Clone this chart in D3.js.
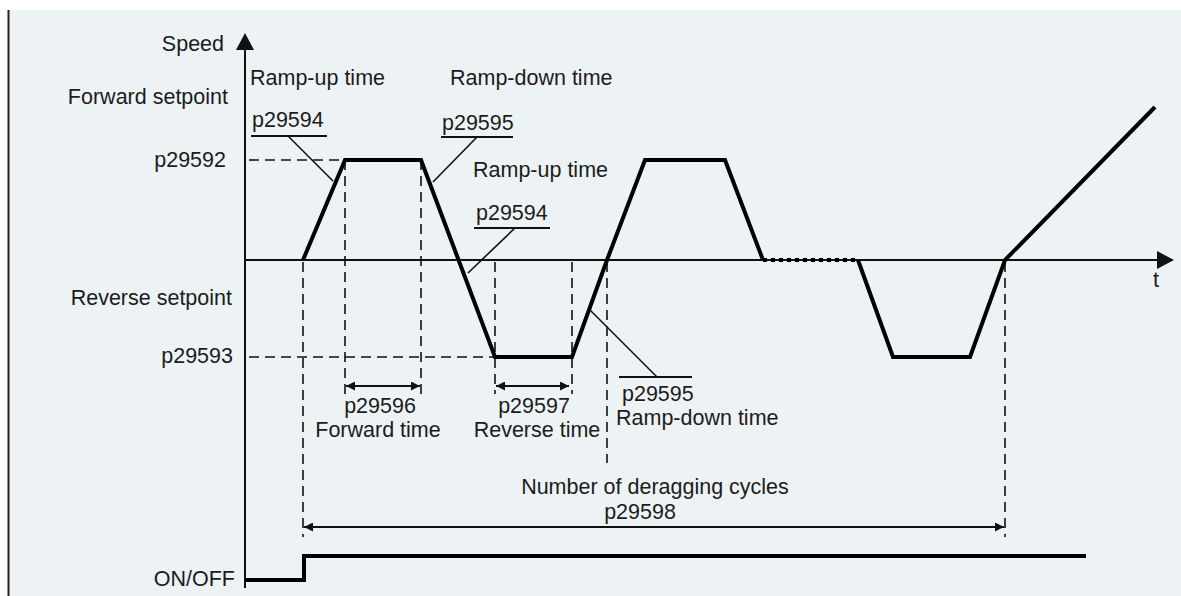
<!DOCTYPE html>
<html>
<head>
<meta charset="utf-8">
<script src="https://cdn.jsdelivr.net/npm/d3@7"></script>
<style>
  body { margin: 0; background: #fff; }
  text { font-family: "Liberation Sans", Arial, sans-serif; font-size: 21.5px; fill: #1c1c1c; }
</style>
</head>
<body>
<svg id="chart"></svg>
<script>
let width = 1181
let height = 596

// speed profile: time (arbitrary units) and speed (% of forward setpoint)
let cycleT = [5.8, 10, 17.6, 25, 32.7, 36.2, 40, 48, 51.8]
let cycleV = [0, 100, 100, -97, -97, 0, 100, 100, 0]
let gapT = [51.8, 61.3]
let lastT = [61.3, 64.8, 72.5, 76, 91]
let lastV = [0, -97, -97, 0, 153]

// ON/OFF signal
let onoffT = [0, 5.9, 5.9, 84.1]
let onoffV = [0, 0, 1, 1]

// setpoint levels
let setpointNames = ['p29592', 'p29593']
let setpointTitles = ['Forward setpoint', 'Reverse setpoint']
let setpointV = [100, -97]
let setpointUntil = [10, 25]

// time markers (dashed verticals): time, speed where it starts, row it ends on
let markerT = [5.8, 10, 17.6, 25, 32.7, 36.2, 76]
let markerV = [0, 100, 100, 0, 0, 0, 0]
let markerRow = ['cycle', 'dim', 'dim', 'dim', 'dim', 'ramp', 'cycle']

// dimension arrows
let dimFrom = [10, 25, 5.8]
let dimTo = [17.6, 32.5, 76]
let dimRow = ['dim', 'dim', 'cycle']

let svg = d3.select('#chart')
  .attr('width', width)
  .attr('height', height)

let x = d3.scaleLinear().domain([0, 93]).range([245, 1175])
let y = d3.scaleLinear().domain([-97, 100]).range([357, 160])
let yOn = d3.scaleLinear().domain([0, 1]).range([580, 556])
let rows = { dim: 386, ramp: 463, cycle: 527 }
let rowEnd = { dim: 394, ramp: 463, cycle: 537 }

// panel
svg.append('rect')
  .attr('x', 8).attr('y', 10)
  .attr('width', width - 8).attr('height', height - 10)
  .attr('fill', '#edf2f5')
svg.append('line')
  .attr('x1', 8.5).attr('x2', 8.5).attr('y1', 10).attr('y2', height)
  .attr('stroke', '#222').attr('stroke-width', 2)

let defs = svg.append('defs')
defs.append('marker')
  .attr('id', 'head')
  .attr('viewBox', '0 0 10 10')
  .attr('refX', 10).attr('refY', 5)
  .attr('markerWidth', 10).attr('markerHeight', 9)
  .attr('markerUnits', 'userSpaceOnUse')
  .attr('orient', 'auto-start-reverse')
  .append('path')
  .attr('d', 'M0,0L10,5L0,10Z')
  .attr('fill', '#111')

// axes
svg.append('line')
  .attr('x1', x(0)).attr('x2', x(0))
  .attr('y1', 48).attr('y2', 588)
  .attr('stroke', '#111').attr('stroke-width', 2)
svg.append('path')
  .attr('d', `M${x(0)},33L${x(0) + 9},50L${x(0) - 9},50Z`)
  .attr('fill', '#111')
svg.append('line')
  .attr('x1', x(0)).attr('x2', 1160)
  .attr('y1', y(0)).attr('y2', y(0))
  .attr('stroke', '#111').attr('stroke-width', 2)
svg.append('path')
  .attr('d', `M1174,${y(0)}L1157,${y(0) - 9}L1157,${y(0) + 9}Z`)
  .attr('fill', '#111')

// setpoint dashed levels
setpointV.forEach((v, i) => {
  svg.append('line')
    .attr('x1', x(0) + 4).attr('x2', x(setpointUntil[i]))
    .attr('y1', y(v)).attr('y2', y(v))
    .attr('stroke', '#111').attr('stroke-width', 1.6)
    .attr('stroke-dasharray', '10,6')
})

// dashed time markers
markerT.forEach((t, i) => {
  svg.append('line')
    .attr('x1', x(t)).attr('x2', x(t))
    .attr('y1', y(markerV[i]) + (markerV[i] === 0 ? 2 : 0))
    .attr('y2', rowEnd[markerRow[i]])
    .attr('stroke', '#111').attr('stroke-width', 1.6)
    .attr('stroke-dasharray', '10,6')
})

// dimension arrows
dimFrom.forEach((t, i) => {
  svg.append('line')
    .attr('x1', x(t) + 1).attr('x2', x(dimTo[i]) - 1)
    .attr('y1', rows[dimRow[i]]).attr('y2', rows[dimRow[i]])
    .attr('stroke', '#111').attr('stroke-width', 1.8)
    .attr('marker-start', 'url(#head)')
    .attr('marker-end', 'url(#head)')
})

// speed profile
let line = d3.line()
  .x((d) => x(d[0]))
  .y((d) => y(d[1]))

svg.append('path')
  .attr('d', line(d3.zip(cycleT, cycleV)))
  .attr('fill', 'none').attr('stroke', '#000')
  .attr('stroke-width', 4).attr('stroke-linejoin', 'miter')
svg.append('path')
  .attr('d', line(gapT.map((t) => [t, 0])))
  .attr('fill', 'none').attr('stroke', '#000')
  .attr('stroke-width', 4).attr('stroke-dasharray', '4,4')
svg.append('path')
  .attr('d', line(d3.zip(lastT, lastV)))
  .attr('fill', 'none').attr('stroke', '#000')
  .attr('stroke-width', 4).attr('stroke-linejoin', 'miter')

// ON/OFF signal
svg.append('path')
  .attr('d', d3.line().x((d) => x(d[0])).y((d) => yOn(d[1]))(d3.zip(onoffT, onoffV)))
  .attr('fill', 'none').attr('stroke', '#000')
  .attr('stroke-width', 4)

// left labels
let leftLabels = [
  ['Speed', 224, 51],
  [setpointTitles[0], 228, 104],
  [setpointNames[0], 226, 167],
  [setpointTitles[1], 232, 305],
  [setpointNames[1], 233, 363],
  ['ON/OFF', 235, 586]
]
leftLabels.forEach((d) => {
  svg.append('text')
    .attr('x', d[1]).attr('y', d[2])
    .attr('text-anchor', 'end')
    .text(d[0])
})

// annotated ramp parameters: label, title, underline, leader target
let ramps = [
  { name: 'p29594', title: 'Ramp-up time', tx: 250, ty: 85, ux: [251, 327], uy: 136, lx: 288, t: 8.8, v: 79, nameX: 252, nameY: 127 },
  { name: 'p29595', title: 'Ramp-down time', tx: 450, ty: 85, ux: [441, 513], uy: 137, lx: 477, t: 18.8, v: 78, nameX: 442, nameY: 130 },
  { name: 'p29594', title: 'Ramp-up time', tx: 473, ty: 177, ux: [474, 550], uy: 228, lx: 515, t: 22.3, v: -13, nameX: 476, nameY: 220 },
  { name: 'p29595', title: 'Ramp-down time', tx: 616, ty: 425, ux: [619, 692], uy: 377, lx: 657, t: 34.5, v: -50, nameX: 622, nameY: 401 }
]
ramps.forEach((r) => {
  svg.append('text').attr('x', r.tx).attr('y', r.ty).text(r.title)
  svg.append('text').attr('x', r.nameX).attr('y', r.nameY).text(r.name)
  svg.append('line')
    .attr('x1', r.ux[0]).attr('x2', r.ux[1])
    .attr('y1', r.uy).attr('y2', r.uy)
    .attr('stroke', '#111').attr('stroke-width', 1.8)
  svg.append('line')
    .attr('x1', r.lx).attr('y1', r.uy)
    .attr('x2', x(r.t)).attr('y2', y(r.v))
    .attr('stroke', '#111').attr('stroke-width', 1.6)
})

// dimension labels
let dimLabels = [
  ['p29596', 380, 413],
  ['Forward time', 378, 437],
  ['p29597', 534, 413],
  ['Reverse time', 537, 437],
  ['Number of deragging cycles', 655, 494],
  ['p29598', 640, 519],
  ['t', 1156, 287]
]
dimLabels.forEach((d) => {
  svg.append('text')
    .attr('x', d[1]).attr('y', d[2])
    .attr('text-anchor', 'middle')
    .text(d[0])
})
</script>
</body>
</html>
